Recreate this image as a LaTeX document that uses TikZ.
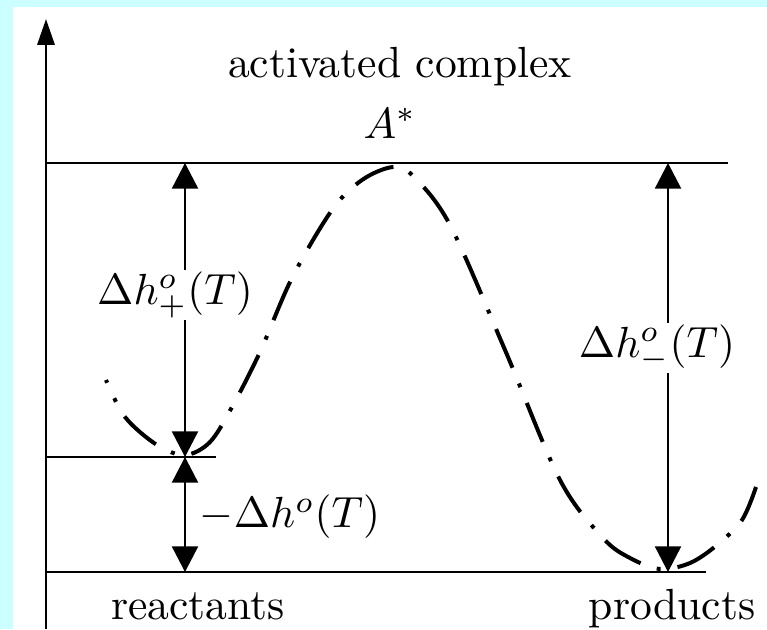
\RequirePackage{fix-cm}
\documentclass[tikz,border=0pt]{standalone}
\usetikzlibrary{arrows.meta}
\definecolor{bgcyan}{RGB}{204,255,255}
\begin{document}
\begin{tikzpicture}[x=0.25pt,y=-0.25pt,
  lvl/.style={line width=0.5pt},
  dimarrow/.style={line width=0.5pt,{Triangle[width=6.5pt,length=6.4pt]}-{Triangle[width=6.5pt,length=6.4pt]}},
  lbl/.style={inner sep=0.3pt,font=\fontsize{10.9}{13}\selectfont},
  cutlbl/.style={lbl,fill=white},
  curvestyle/.style={line width=1pt,dash pattern=on 10.5pt off 4.25pt on 1pt off 4.25pt,dash phase=9.75pt}]
\useasboundingbox (0,0) rectangle (767,629);
\fill[bgcyan] (0,0) rectangle (767,629);
\fill[white] (13,7) rectangle (767,629);
% axis
\coordinate (axB) at (46,629);
\coordinate (axT) at (46,19);
\draw[line width=0.7pt,-{Triangle[width=4.3pt,length=6.5pt]}] (axB) -- (axT);
% levels
\coordinate (topL) at (46,163);  \coordinate (topR) at (728,163);
\coordinate (midL) at (46,457);  \coordinate (midR) at (216,457);
\coordinate (botL) at (46,572);  \coordinate (botR) at (706,572);
\draw[lvl] (topL) -- (topR);
\draw[lvl] (midL) -- (midR);
\draw[lvl] (botL) -- (botR);
% arrow end points
\coordinate (a1) at (185,163);
\coordinate (a2) at (185,457);
\coordinate (a3) at (185,572);
\coordinate (b1) at (668,163);
\coordinate (b2) at (668,572);
\draw[dimarrow] (a2) -- (a1);
\draw[dimarrow] (a2) -- (a3);
\draw[dimarrow] (b1) -- (b2);
% potential curve
\draw[curvestyle] plot[smooth,tension=0.55] coordinates {(106,380) (125,417) (157,445) (185,455) (210,442) (232,407) (260,352) (292,278) (332,210) (362,180) (393,167) (413,176) (450,225) (505,350) (560,480) (603,538) (630,558) (660,569) (690,563) (717,545) (742,520) (756,487)};
% labels
\node[lbl] (ac) at (400,67) {activated complex};
\node[lbl] (A) at (390,123) {$A^*$};
\node[cutlbl] (dhp) at (175,295) {$\Delta h^o_+(T)$};
\node[lbl] (dh) at (290,517) {$-\Delta h^o(T)$};
\node[cutlbl] (dhm) at (657,348) {$\Delta h^o_-(T)$};
\node[lbl,anchor=base] (re) at (198,619) {reactants};
\node[lbl,anchor=base] (pr) at (672,619) {products};
\end{tikzpicture}
\end{document}
